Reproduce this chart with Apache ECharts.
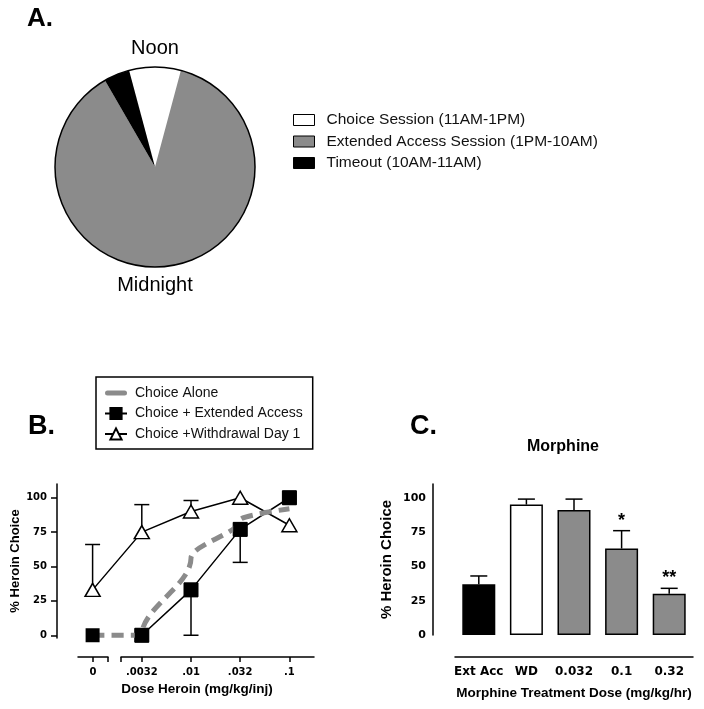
<!DOCTYPE html>
<html>
<head>
<meta charset="utf-8">
<script src="https://cdn.jsdelivr.net/npm/echarts@6/dist/echarts.min.js"></script>
<style>
html,body{margin:0;padding:0;background:#fff;}
#chart{width:704px;height:709px;}
</style>
</head>
<body>
<div id="chart"></div>
<script>
// ---- Panel A data ----
const pieNames = ['Choice Session (11AM-1PM)', 'Extended Access Session (1PM-10AM)', 'Timeout (10AM-11AM)'];
const pieHours = [2, 21, 1];

// ---- Panel B data ----
const doseLabels = ['0', '.0032', '.01', '.032', '.1'];
const choiceAlone = [0, 0, 56, 84, 92];
const extAccMean = [0, 0, 33, 77, 100];
const extAccLow = [null, null, 0, 53, null];
const wdMean = [33, 75, 90, 100, 80];
const wdHigh = [66, 95, 98, null, null];
const bTicks = [0, 25, 50, 75, 100];

// ---- Panel C data ----
const morphCats = ['Ext Acc', 'WD', '0.032', '0.1', '0.32'];
const morphMean = [37, 95, 91, 63, 30];
const morphErr = [43, 99, 99, 76, 34];
const morphSig = ['', '', '', '*', '**'];
const cTicks = [0, 25, 50, 75, 100];

const GREY = '#8b8b8b';
const FONT = 'Liberation Sans';
const TICKFONT = 'DejaVu Sans';

function errRender(capW, sig) {
  return function (params, api) {
    const x = api.value(0), a = api.value(1), b = api.value(2);
    const p0 = api.coord([x, a]), p1 = api.coord([x, b]);
    const st = { stroke: '#000', lineWidth: 1.5 };
    const children = [
      { type: 'line', shape: { x1: p0[0], y1: p0[1], x2: p1[0], y2: p1[1] }, style: st },
      { type: 'line', shape: { x1: p1[0] - capW / 2, y1: p1[1], x2: p1[0] + capW / 2, y2: p1[1] }, style: st }
    ];
    if (sig && sig[params.dataIndex]) {
      children.push({
        type: 'text',
        style: {
          x: p1[0], y: p1[1] - 1, text: sig[params.dataIndex],
          align: 'center', verticalAlign: 'bottom',
          font: 'bold 18px "Liberation Sans"', fill: '#000'
        }
      });
    }
    return { type: 'group', children: children };
  };
}

const wdErrData = wdMean.map((v, i) => [i, v, wdHigh[i]]).filter(d => d[2] !== null);
const extErrData = extAccMean.map((v, i) => [i, v, extAccLow[i]]).filter(d => d[2] !== null);
const morphErrData = morphCats.map((c, i) => [i, morphMean[i], morphErr[i]]);
const barColors = ['#000000', '#ffffff', GREY, GREY, GREY];

const chart = echarts.init(document.getElementById('chart'), null, { renderer: 'canvas' });

const tickLabelB = { fontFamily: TICKFONT, fontWeight: 'bold', fontSize: 10, color: '#000' };
const tickLabelC = { fontFamily: TICKFONT, fontWeight: 'bold', fontSize: 11, color: '#000' };
const axisLine = { show: true, onZero: false, lineStyle: { color: '#000', width: 1.5 } };
const axisTickS = { lineStyle: { color: '#000', width: 1.5 } };
const barIcon = 'path://M2.5,0 L19.5,0 A2.5,2.5 0 0 1 19.5,5 L2.5,5 A2.5,2.5 0 0 1 2.5,0 Z';

const option = {
  animation: false,
  backgroundColor: '#fff',
  textStyle: { fontFamily: FONT },
  graphic: [
    { type: 'text', x: 27, y: 19, style: { text: 'A.', font: 'bold 26px "Liberation Sans"', fill: '#000', verticalAlign: 'middle' } },
    { type: 'text', x: 155, y: 48, style: { text: 'Noon', font: '20px "Liberation Sans"', fill: '#000', align: 'center', verticalAlign: 'middle' } },
    { type: 'text', x: 155, y: 285, style: { text: 'Midnight', font: '20px "Liberation Sans"', fill: '#000', align: 'center', verticalAlign: 'middle' } },
    { type: 'text', x: 28, y: 427, style: { text: 'B.', font: 'bold 27px "Liberation Sans"', fill: '#000', verticalAlign: 'middle' } },
    { type: 'text', x: 410, y: 427, style: { text: 'C.', font: 'bold 27px "Liberation Sans"', fill: '#000', verticalAlign: 'middle' } },
    { type: 'text', x: 563, y: 447, style: { text: 'Morphine', font: 'bold 16px "Liberation Sans"', fill: '#000', align: 'center', verticalAlign: 'middle' } }
  ],
  legend: [
    {
      data: pieNames,
      orient: 'vertical',
      left: 293, top: 112,
      padding: 0,
      itemWidth: 21, itemHeight: 11, itemGap: 5.5,
      icon: 'rect',
      itemStyle: { borderColor: '#000', borderWidth: 1 },
      textStyle: { fontFamily: FONT, fontSize: 15.5, color: '#111', lineHeight: 14, padding: [0, 0, 0, 7] },
      selectedMode: false
    },
    {
      data: [
        { name: 'Choice Alone', icon: barIcon },
        { name: 'Choice + Extended Access' },
        { name: 'Choice +Withdrawal Day 1' }
      ],
      orient: 'vertical',
      left: 96, top: 377,
      padding: [9, 10, 8, 8],
      borderColor: '#000', borderWidth: 1.5,
      itemWidth: 22, itemHeight: 14, itemGap: 6.5,
      symbolKeepAspect: true,
      textStyle: { fontFamily: FONT, fontSize: 14, color: '#111', lineHeight: 14, padding: [0, 0, 0, 3] },
      selectedMode: false
    }
  ],
  grid: [
    { left: 68, top: 484, width: 246, height: 154 },
    { left: 78, top: 484, width: 30, height: 154 },
    { left: 121, top: 484, width: 193, height: 154 },
    { left: 455, top: 484, width: 238, height: 151 }
  ],
  xAxis: [
    {
      gridIndex: 0, type: 'value', min: -0.5, max: 4.5,
      axisLine: { show: false, onZero: false }, axisTick: { show: false }, axisLabel: { show: false }, splitLine: { show: false },
      name: 'Dose Heroin (mg/kg/inj)', nameLocation: 'middle', nameGap: 44,
      nameTextStyle: { fontFamily: FONT, fontWeight: 'bold', fontSize: 13.5, color: '#000', padding: [0, 0, 0, 12] }
    },
    {
      gridIndex: 1, type: 'value', min: -0.3, max: 0.3, offset: 19,
      axisLine: axisLine, splitLine: { show: false },
      axisTick: Object.assign({ length: 5, customValues: [0, 0.3] }, axisTickS),
      axisLabel: Object.assign({ margin: 10, customValues: [0], formatter: v => doseLabels[Math.round(v)] }, tickLabelB)
    },
    {
      gridIndex: 2, type: 'value', min: 0.577, max: 4.5, offset: 19,
      axisLine: axisLine, splitLine: { show: false },
      axisTick: Object.assign({ length: 5, customValues: [0.577, 1, 2, 3, 4] }, axisTickS),
      axisLabel: Object.assign({ margin: 10, customValues: [1, 2, 3, 4], formatter: v => doseLabels[Math.round(v)] }, tickLabelB)
    },
    {
      gridIndex: 3, type: 'category', data: morphCats, offset: 22,
      axisLine: axisLine,
      axisTick: Object.assign({ alignWithLabel: true, length: 5 }, axisTickS),
      axisLabel: Object.assign({}, tickLabelC, { margin: 9, fontSize: 12, interval: 0 }),
      name: 'Morphine Treatment Dose (mg/kg/hr)', nameLocation: 'middle', nameGap: 29,
      nameTextStyle: { fontFamily: FONT, fontWeight: 'bold', fontSize: 13.5, color: '#000' }
    }
  ],
  yAxis: [
    {
      gridIndex: 0, type: 'value', min: -2, max: 110, offset: 11,
      axisLine: axisLine, splitLine: { show: false },
      axisTick: Object.assign({ length: 6, customValues: bTicks }, axisTickS),
      axisLabel: Object.assign({ margin: 10, customValues: bTicks }, tickLabelB),
      name: '% Heroin Choice', nameLocation: 'middle', nameGap: 35.5,
      nameTextStyle: { fontFamily: FONT, fontWeight: 'bold', fontSize: 13, color: '#000' }
    },
    { gridIndex: 1, type: 'value', min: -2, max: 110, show: false },
    { gridIndex: 2, type: 'value', min: -2, max: 110, show: false },
    {
      gridIndex: 3, type: 'value', min: 0, max: 110, offset: 22,
      axisLine: axisLine, splitLine: { show: false },
      axisTick: Object.assign({ length: 6, customValues: cTicks }, axisTickS),
      axisLabel: Object.assign({ margin: 7, customValues: cTicks }, tickLabelC),
      name: '% Heroin Choice', nameLocation: 'middle', nameGap: 38.5,
      nameTextStyle: { fontFamily: FONT, fontWeight: 'bold', fontSize: 15, color: '#000' }
    }
  ],
  series: [
    {
      type: 'pie', name: 'Schedule',
      center: [155, 167], radius: 100, startAngle: 105, clockwise: true,
      label: { show: false }, labelLine: { show: false }, silent: true,
      itemStyle: { borderWidth: 0 },
      data: pieNames.map((n, i) => ({ name: n, value: pieHours[i], itemStyle: { color: ['#ffffff', GREY, '#000000'][i] } }))
    },
    {
      type: 'pie', name: 'outline',
      center: [155, 167], radius: 100, silent: true,
      label: { show: false }, labelLine: { show: false },
      itemStyle: { color: 'rgba(0,0,0,0)', borderColor: '#000', borderWidth: 1.5 },
      data: [{ name: '24h', value: pieHours.reduce((a, b) => a + b, 0) }],
      z: 3
    },
    // Panel B error bars
    {
      type: 'custom', name: 'wdErr', xAxisIndex: 0, yAxisIndex: 0,
      renderItem: errRender(15), data: wdErrData, encode: { x: 0, y: [1, 2] }, z: 1, silent: true
    },
    {
      type: 'custom', name: 'extErr', xAxisIndex: 0, yAxisIndex: 0,
      renderItem: errRender(15), data: extErrData, encode: { x: 0, y: [1, 2] }, z: 1, silent: true
    },
    {
      type: 'line', name: 'Choice +Withdrawal Day 1', xAxisIndex: 0, yAxisIndex: 0,
      data: wdMean.map((v, i) => [i, v]),
      symbol: 'triangle', symbolSize: [15, 13],
      lineStyle: { color: '#000', width: 1.5 },
      itemStyle: { color: '#fff', borderColor: '#000', borderWidth: 1.5 },
      z: 2
    },
    {
      type: 'line', name: 'Choice + Extended Access', xAxisIndex: 0, yAxisIndex: 0,
      data: extAccMean.map((v, i) => [i, v]).slice(1),
      symbol: 'rect', symbolSize: 14,
      lineStyle: { color: '#000', width: 1.5 },
      itemStyle: { color: '#000', borderColor: '#000', borderWidth: 1 },
      z: 2
    },
    {
      type: 'line', name: 'Choice Alone', xAxisIndex: 0, yAxisIndex: 0,
      data: choiceAlone.map((v, i) => [i, v]),
      symbol: 'none', smooth: 0.35, smoothMonotone: 'y',
      lineStyle: { color: GREY, width: 5, type: [12, 7], cap: 'butt' },
      itemStyle: { color: GREY },
      z: 3
    },
    {
      type: 'scatter', name: 'extMarkers', xAxisIndex: 0, yAxisIndex: 0,
      data: extAccMean.map((v, i) => [i, v]),
      symbol: 'rect', symbolSize: 14,
      itemStyle: { color: '#000', opacity: 1 },
      z: 4, silent: true
    },
    // Panel C
    {
      type: 'bar', name: 'Morphine', xAxisIndex: 3, yAxisIndex: 3,
      barWidth: 33,
      data: morphMean.map((v, i) => ({ value: v, itemStyle: { color: barColors[i] } })),
      itemStyle: { borderColor: '#000', borderWidth: 1.5 },
      z: 2
    },
    {
      type: 'custom', name: 'morphErr', xAxisIndex: 3, yAxisIndex: 3,
      renderItem: errRender(17, morphSig), data: morphErrData, encode: { x: 0, y: [1, 2] }, z: 1, silent: true
    }
  ]
};
chart.setOption(option);
</script>
</body>
</html>
